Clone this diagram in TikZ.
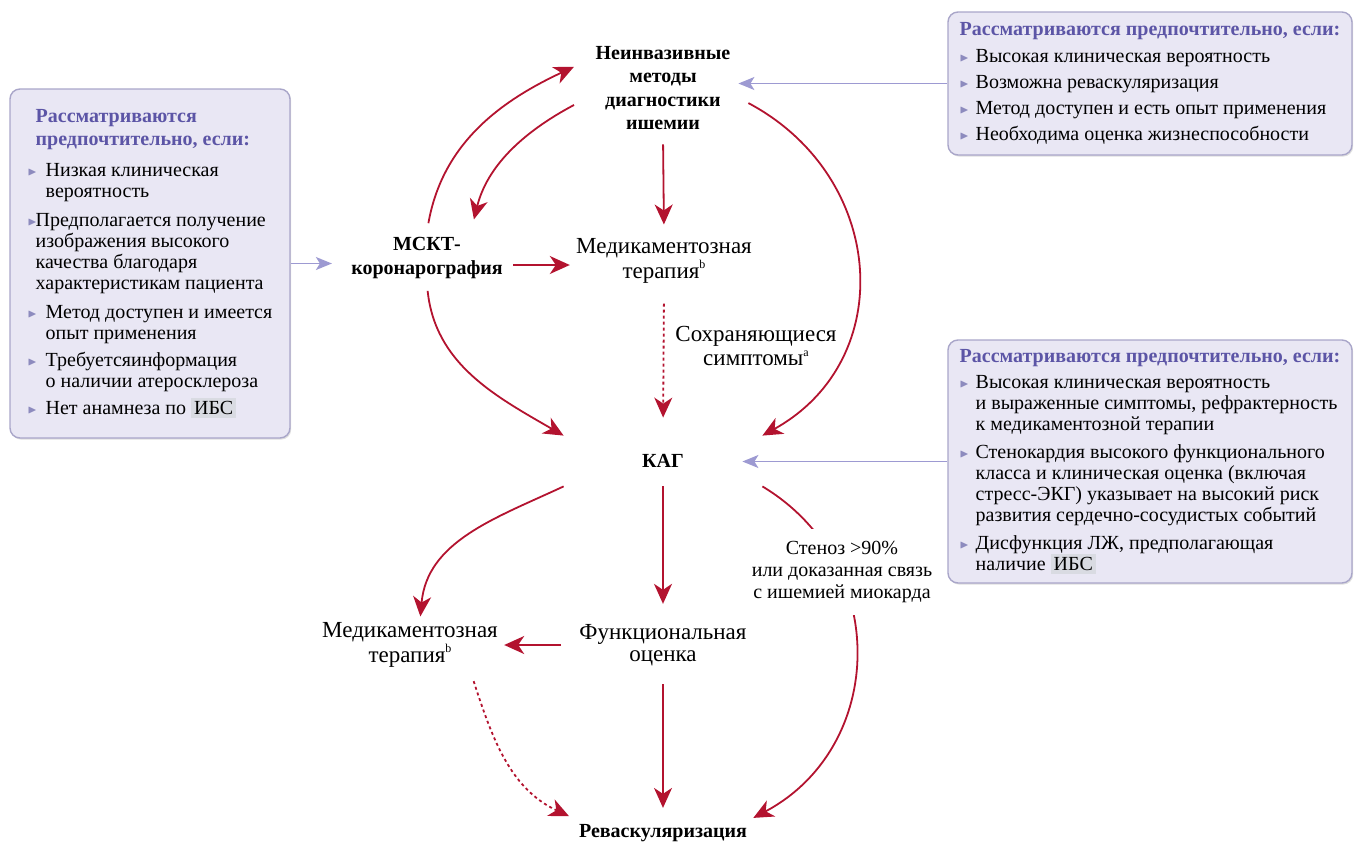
\documentclass[tikz,border=0pt]{standalone}
\usepackage{fontspec}
\usepackage{amssymb}
\usepackage{graphicx}
\setmainfont{Liberation Serif}
\usetikzlibrary{arrows.meta,shadows}

\definecolor{arrred}{HTML}{B3132F}
\definecolor{lilac}{HTML}{9D9AD2}
\definecolor{boxfill}{HTML}{E9E7F4}
\definecolor{boxline}{HTML}{A9A6C9}
\definecolor{headblue}{HTML}{5C55A6}
\definecolor{bulletc}{HTML}{8D8BBE}
\definecolor{ibsgray}{HTML}{D9DBE2}

\newcommand{\bul}[1][0.9em]{\makebox[#1][l]{\textcolor{bulletc}{\raisebox{0.15ex}{\scalebox{0.6}{$\blacktriangleright$}}}}}
\newcommand{\ind}[1][0.9em]{\hspace*{#1}}
\newcommand{\hdr}[1]{\textcolor{headblue}{\bfseries #1}}
\newcommand{\ibs}{{\setlength{\fboxsep}{1.5pt}\colorbox{ibsgray}{ИБС}}}
\newcommand{\fn}[1]{\raisebox{0.9ex}{\fontsize{6}{6}\selectfont #1}}

\tikzset{
  bnode/.style={font=\bfseries\fontsize{10}{11.75}\selectfont, align=center, inner sep=3pt},
  rnode/.style={font=\fontsize{11.5}{11}\selectfont, align=center, inner sep=3pt},
  stlbl/.style={font=\fontsize{10}{11}\selectfont, align=center, fill=white, inner sep=6pt},
  redarr/.style={draw=arrred, line width=0.9pt, -{Stealth[length=10pt,width=9pt,inset=3pt]}},
  dotarr/.style={redarr, dash pattern=on 1.5pt off 1.5pt},
  lilarr/.style={draw=lilac, line width=0.8pt, -{Stealth[length=8pt,width=6.5pt,inset=2pt]}},
  infobox/.style={draw=boxline, fill=boxfill, rounded corners=5pt, line width=0.7pt, align=left,
    font=\fontsize{10}{10.5}\selectfont, drop shadow={shadow xshift=0.6pt, shadow yshift=-0.8pt, opacity=0.25}}
}

\begin{document}
\begin{tikzpicture}[x=0.5pt,y=-0.5pt]
	\useasboundingbox (0,0) rectangle (1357,847);
	% condition boxes
	\node[infobox, minimum width=140pt, minimum height=174.5pt] (boxL) at (150,263.5) {%
		\hdr{\ind[0.4em]Рассматриваются}\\[1pt]
		\hdr{\ind[0.4em]предпочтительно, если:}\\[5pt]
		\bul Низкая клиническая\\
		\ind вероятность\\[4pt]
		\bul[0.4em]Предполагается получение\\
		\ind[0.4em]изображения высокого\\
		\ind[0.4em]качества благодаря\\
		\ind[0.4em]характеристикам пациента\\[4pt]
		\bul Метод доступен и имеется\\
		\ind опыт применения\\[3pt]
		\bul Требуетсяинформация\\
		\ind о наличии атеросклероза\\[3pt]
		\bul Нет анамнеза по \ibs};
	\node[infobox, minimum width=202pt, minimum height=71.5pt] (boxTR) at (1150,83.5) {%
		\hdr{Рассматриваются предпочтительно, если:}\\[3pt]
		\bul[0.8em]Высокая клиническая вероятность\\[2.5pt]
		\bul[0.8em]Возможна реваскуляризация\\[2.5pt]
		\bul[0.8em]Метод доступен и есть опыт применения\\[2.5pt]
		\bul[0.8em]Необходима оценка жизнеспособности};
	\node[infobox, minimum width=202pt, minimum height=121.5pt] (boxR) at (1150,461.5) {%
		\hdr{Рассматриваются предпочтительно, если:}\\[2.5pt]
		\bul[0.8em]Высокая клиническая вероятность\\
		\ind[0.8em]и выраженные симптомы, рефрактерность\\
		\ind[0.8em]к медикаментозной терапии\\[3.5pt]
		\bul[0.8em]Стенокардия высокого функционального\\
		\ind[0.8em]класса и клиническая оценка (включая\\
		\ind[0.8em]стресс-ЭКГ) указывает на высокий риск\\
		\ind[0.8em]развития сердечно-сосудистых событий\\[3.5pt]
		\bul[0.8em]Дисфункция ЛЖ, предполагающая\\
		\ind[0.8em]наличие \ibs};
	% steps
	\node[bnode, minimum width=85pt] (nonin) at (663,88) {Неинвазивные\\методы\\диагностики\\ишемии};
	\node[bnode] (mskt) at (427,258) {МСКТ-\\коронарография};
	\node[rnode] (med1) at (664,261) {Медикаментозная\\терапия\fn{b}};
	\node[rnode, font=\fontsize{11.5}{12}\selectfont] (symp) at (756,346) {Сохраняющиеся\\симптомы\fn{a}};
	\node[bnode, minimum width=99pt, minimum height=25pt] (kag) at (663,461) {КАГ};
	\node[rnode] (func) at (663,645) {Функциональная\\оценка};
	\node[rnode] (med2) at (410,645) {Медикаментозная\\терапия\fn{b}};
	\node[bnode] (revasc) at (663,833) {Реваскуляризация};
	% preferred-if arrows
	\draw[lilarr, shorten >=-5pt] (boxTR.west) -- (boxTR.west -| nonin.east);
	\draw[lilarr, shorten >=6.5pt] (boxL.east) -- (boxL.east -| mskt.west);
	\draw[lilarr, shorten >=-3pt] (boxR.west) -- (boxR.west -| nonin.east);
	% upper loop
	\draw[redarr, shorten <=4pt, shorten >=2pt] (mskt.north) to[out=80,in=205] (nonin.165);
	\draw[redarr, shorten <=2pt, shorten >=6pt] (nonin.190) to[out=208,in=76] ([xshift=22pt]mskt.north);
	\draw[redarr, shorten <=4pt, shorten >=4pt] (nonin.south) -- (med1.north);
	\draw[redarr, shorten <=2pt] ([yshift=-3.5pt]mskt.east) -- ([yshift=-3.5pt]mskt.east -| med1.west);
	\draw[dotarr, shorten <=7pt, shorten >=9pt] (med1.south) -- (kag.north);
	\draw[redarr, shorten <=3pt] (mskt.south) to[out=-84,in=150] (kag.north west);
	\draw[redarr] (nonin.-10) to[out=-28,in=29,looseness=1.2] (kag.north east);
	% lower loop
	\draw[redarr] (kag.south east) to[out=-31,in=28,looseness=1.16] (revasc.north east);
	\node[stlbl] (sten) at (842,572) {Стеноз >90\%\\или доказанная связь\\с ишемией миокарда};
	\draw[redarr] (kag.south west) to[out=205,in=85] (med2.70);
	\draw[redarr, shorten >=7pt] (kag.south) -- (func.north);
	\draw[redarr, shorten <=6pt] (func.west) -- (med2.east);
	\draw[redarr, shorten <=6pt, shorten >=5pt] (func.south) -- (revasc.north);
	\draw[dotarr, shorten <=4pt, shorten >=2pt] (med2.-25) to[out=-72,in=155] (revasc.north west);
\end{tikzpicture}
\end{document}
